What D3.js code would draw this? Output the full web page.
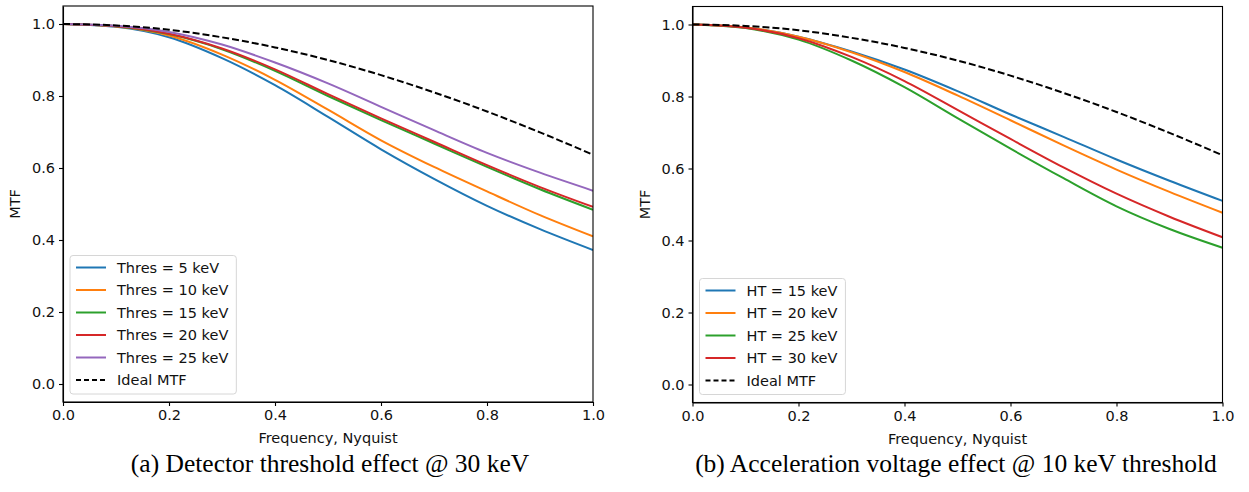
<!DOCTYPE html>
<html>
<head>
<meta charset="utf-8">
<script src="https://cdn.jsdelivr.net/npm/d3@7"></script>
<style>
  body { margin: 0; background: #fff; }
  svg { display: block; }
  .tick text { font-family: "DejaVu Sans", sans-serif; font-size: 14.5px; fill: #111; }
  .axis path, .axis line { stroke: #000; stroke-width: 1.1px; }
  .label { font-family: "DejaVu Sans", sans-serif; font-size: 14.5px; fill: #111; }
  .caption { font-family: "Liberation Serif", "Times New Roman", serif; font-size: 25.5px; fill: #000; }
</style>
</head>
<body>
<div id="chart"></div>
<script>
// spatial frequency (fraction of Nyquist)
const freq = [0, 0.1, 0.2, 0.3, 0.4, 0.5, 0.6, 0.7, 0.8, 0.9, 1.0];

// panel (a): detector threshold @ 30 keV
const thres5  = [1.0, 0.992, 0.963, 0.905, 0.830, 0.742, 0.652, 0.570, 0.495, 0.430, 0.372];
const thres10 = [1.0, 0.993, 0.968, 0.915, 0.845, 0.762, 0.677, 0.603, 0.535, 0.469, 0.410];
const thres15 = [1.0, 0.994, 0.972, 0.930, 0.870, 0.800, 0.733, 0.668, 0.603, 0.541, 0.484];
const thres20 = [1.0, 0.994, 0.973, 0.932, 0.874, 0.805, 0.738, 0.673, 0.608, 0.547, 0.492];
const thres25 = [1.0, 0.995, 0.978, 0.943, 0.893, 0.835, 0.770, 0.705, 0.642, 0.587, 0.537];

// panel (b): acceleration voltage @ 10 keV threshold
const ht15 = [1.0, 0.992, 0.966, 0.925, 0.875, 0.815, 0.750, 0.688, 0.625, 0.566, 0.510];
const ht20 = [1.0, 0.992, 0.966, 0.923, 0.868, 0.803, 0.734, 0.664, 0.597, 0.535, 0.477];
const ht25 = [1.0, 0.990, 0.958, 0.900, 0.826, 0.740, 0.655, 0.573, 0.495, 0.432, 0.380];
const ht30 = [1.0, 0.991, 0.962, 0.910, 0.843, 0.763, 0.682, 0.603, 0.530, 0.466, 0.409];

// ideal pixel MTF
const ideal = [1.0, 0.996, 0.984, 0.963, 0.935, 0.900, 0.858, 0.810, 0.757, 0.699, 0.637];

const xTicks = [0, 0.2, 0.4, 0.6, 0.8, 1.0];
const yTicks = [0, 0.2, 0.4, 0.6, 0.8, 1.0];

const colors = ["#1f77b4", "#ff7f0e", "#2ca02c", "#d62728", "#9467bd"];

let width = 1249, height = 492;

let svg = d3.select("#chart").append("svg")
  .attr("width", width)
  .attr("height", height);

let drawPanel = (opts) => {
  let left = opts.left, top = opts.top, w = opts.w, h = opts.h;

  let x = d3.scaleLinear().domain([0, 1]).range([0, w]);
  let y = d3.scaleLinear().domain([-0.05, 1.05]).range([h, 0]);

  let g = svg.append("g").attr("transform", `translate(${left}, ${top})`);

  let line = d3.line()
    .x((d, i) => x(freq[i]))
    .y(d => y(d))
    .curve(d3.curveMonotoneX);

  g.append("clipPath").attr("id", opts.id + "-clip")
    .append("rect").attr("width", w).attr("height", h);

  let lines = g.append("g").attr("clip-path", `url(#${opts.id}-clip)`);

  opts.series.forEach(s => {
    lines.append("path")
      .attr("d", line(s.values))
      .attr("fill", "none")
      .attr("stroke", s.color)
      .attr("stroke-width", 2);
  });

  lines.append("path")
    .attr("d", line(ideal))
    .attr("fill", "none")
    .attr("stroke", "#000")
    .attr("stroke-width", 2)
    .attr("stroke-dasharray", "7,3");

  /* axes */
  let xAxis = d3.axisBottom(x).tickValues(xTicks).tickFormat(d3.format(".1f"))
    .tickSizeInner(4).tickSizeOuter(0).tickPadding(4);
  let yAxis = d3.axisLeft(y).tickValues(yTicks).tickFormat(d3.format(".1f"))
    .tickSizeInner(4).tickSizeOuter(0).tickPadding(4);

  g.append("g").attr("class", "x axis")
    .attr("transform", `translate(0, ${h})`)
    .call(xAxis);
  g.append("g").attr("class", "y axis").call(yAxis);

  // frame
  g.append("rect")
    .attr("width", w).attr("height", h)
    .attr("fill", "none").attr("stroke", "#000").attr("stroke-width", 1.1);

  g.append("text").attr("class", "label")
    .attr("text-anchor", "middle")
    .attr("x", w / 2).attr("y", h + 41)
    .text("Frequency, Nyquist");

  g.append("text").attr("class", "label")
    .attr("text-anchor", "middle")
    .attr("transform", `translate(${-43}, ${h / 2}) rotate(-90)`)
    .text("MTF");

  /* legend */
  let entries = opts.series.map(s => ({ name: s.name, color: s.color, dash: null }))
    .concat([{ name: "Ideal MTF", color: "#000", dash: "5,3" }]);
  let rowH = 22.5;
  let leg = g.append("g");
  let box = leg.append("rect")
    .attr("rx", 3).attr("ry", 3)
    .attr("fill", "#fff").attr("fill-opacity", 0.8)
    .attr("stroke", "#d6d6d6").attr("stroke-width", 1);
  let maxW = 0;
  entries.forEach((e, i) => {
    let cy = 12 + rowH * i;
    leg.append("line")
      .attr("x1", 6).attr("x2", 36)
      .attr("y1", cy).attr("y2", cy)
      .attr("stroke", e.color).attr("stroke-width", 2)
      .attr("stroke-dasharray", e.dash);
    let t = leg.append("text").attr("class", "label")
      .attr("x", 47).attr("y", cy).attr("dy", "0.36em")
      .text(e.name);
    maxW = Math.max(maxW, t.node().getComputedTextLength());
  });
  let legW = 47 + maxW + 8;
  let legH = 12 + rowH * (entries.length - 1) + 14;
  box.attr("width", legW).attr("height", legH);
  leg.attr("transform", `translate(7, ${h - 8 - legH})`);

  svg.append("text").attr("class", "caption")
    .attr("text-anchor", "middle")
    .attr("x", opts.capX).attr("y", 472)
    .text(opts.caption);
};

drawPanel({
  id: "a", left: 63, top: 6, w: 530, h: 396, capX: 330,
  caption: "(a) Detector threshold effect @ 30 keV",
  series: [
    { name: "Thres = 5 keV", values: thres5, color: colors[0] },
    { name: "Thres = 10 keV", values: thres10, color: colors[1] },
    { name: "Thres = 15 keV", values: thres15, color: colors[2] },
    { name: "Thres = 20 keV", values: thres20, color: colors[3] },
    { name: "Thres = 25 keV", values: thres25, color: colors[4] }
  ]
});

drawPanel({
  id: "b", left: 692.5, top: 6.5, w: 530, h: 396, capX: 956,
  caption: "(b) Acceleration voltage effect @ 10 keV threshold",
  series: [
    { name: "HT = 15 keV", values: ht15, color: colors[0] },
    { name: "HT = 20 keV", values: ht20, color: colors[1] },
    { name: "HT = 25 keV", values: ht25, color: colors[2] },
    { name: "HT = 30 keV", values: ht30, color: colors[3] }
  ]
});
</script>
</body>
</html>
